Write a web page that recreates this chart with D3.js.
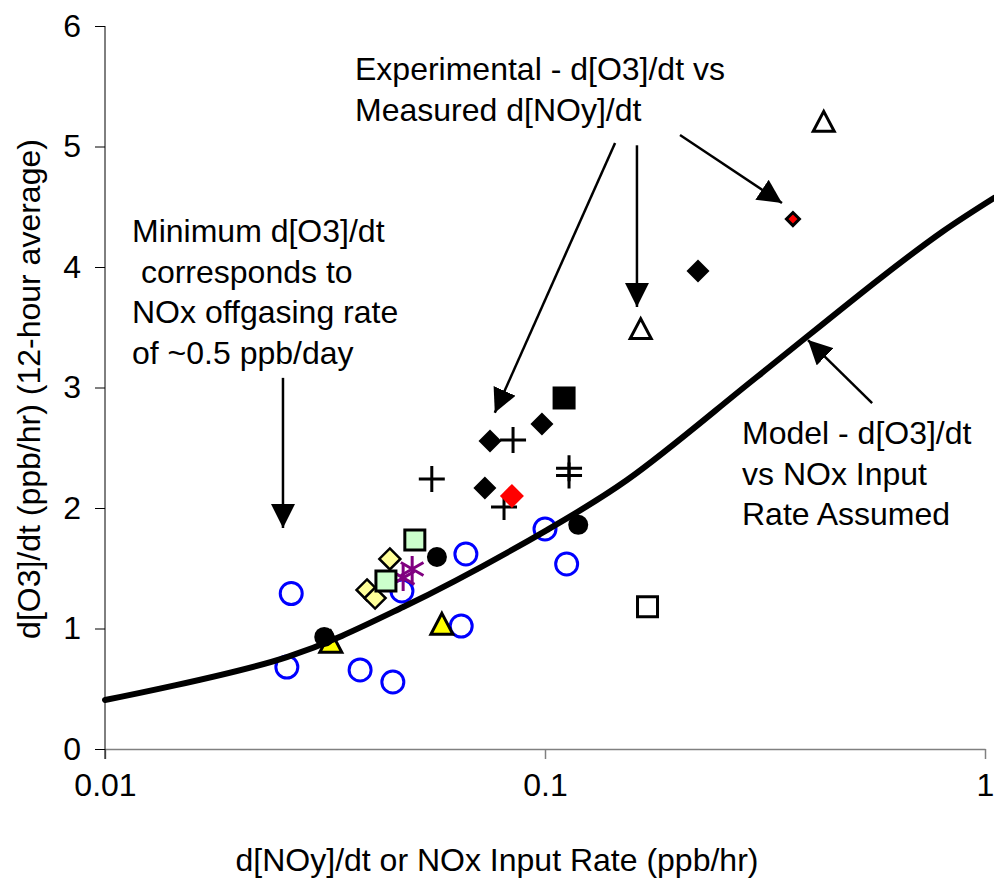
<!DOCTYPE html>
<html>
<head>
<meta charset="utf-8">
<script src="https://cdn.jsdelivr.net/npm/d3@7"></script>
<style>
  body { margin: 0; background: #fff; }
  text { font-family: Arial, "Liberation Sans", sans-serif; fill: #000; }
</style>
</head>
<body>
<svg id="chart" width="994" height="894"></svg>
<script>
// ---- data ----
const xTicks = [0.01, 0.1, 1];
const yTicks = [0, 1, 2, 3, 4, 5, 6];

// model curve (d[O3]/dt vs NOx input rate)
const modelX = [0.01, 0.0259, 0.0476, 0.101, 0.1536, 0.303, 0.5865, 0.803, 1.048];
const modelY = [0.407, 0.763, 1.178, 1.817, 2.232, 3.087, 3.925, 4.297, 4.573];

// experimental points, one array per marker style
const blueCircles = [[0.0265, 1.29], [0.0259, 0.68], [0.038, 0.656], [0.0451, 0.556], [0.0473, 1.311],
                     [0.0661, 1.618], [0.0645, 1.02], [0.1, 1.826], [0.112, 1.535]];
const yellowTriangles = [[0.0326, 0.88], [0.0583, 1.03]];
const yellowDiamonds = [[0.0444, 1.577], [0.0394, 1.32], [0.0411, 1.253]];
const purpleStars = [[0.0476, 1.42], [0.0499, 1.494]];
const greenSquares = [[0.0506, 1.734], [0.0435, 1.394]];
const blackCircles = [[0.0315, 0.93], [0.0568, 1.593], [0.119, 1.86]];
const crosses = [[0.0553, 2.24], [0.0846, 2.564], [0.0807, 2.008], [0.1134, 2.33], [0.1134, 2.27]];
const blackDiamonds = [[0.075, 2.556], [0.073, 2.166], [0.0984, 2.697], [0.2227, 3.967]];
const redDiamonds = [[0.0841, 2.10]];
const blackSquares = [[0.1105, 2.913]];
const openTriangles = [[0.165, 3.48], [0.43, 5.2]];
const openSquares = [[0.171, 1.18]];
const smallRedDiamonds = [[0.366, 4.398]];

// annotation arrows, in data units [x, y]
const arrowFrom = [[0.02538, 3.08], [0.1443, 5.03], [0.1618, 5.01], [0.2027, 5.095], [0.554, 2.871]];
const arrowTo   = [[0.02538, 1.834], [0.0769, 2.79], [0.1618, 3.668], [0.3456, 4.531], [0.396, 3.394]];

// ---- setup ----
const margin = { top: 26, bottom: 145, left: 105, right: 9 };
const svg = d3.select('#chart');
const width = 994 - margin.left - margin.right;
const height = 894 - margin.top - margin.bottom;

const xScale = d3.scaleLog().domain([0.01, 1]).range([margin.left, margin.left + width]);
const yScale = d3.scaleLinear().domain([0, 6]).range([margin.top + height, margin.top]);

svg.append('defs').append('marker')
    .attr('id', 'head')
    .attr('viewBox', '0 0 24 24')
    .attr('refX', 24).attr('refY', 12)
    .attr('markerWidth', 24).attr('markerHeight', 24)
    .attr('markerUnits', 'userSpaceOnUse')
    .attr('orient', 'auto')
  .append('path')
    .attr('d', 'M0,0L24,12L0,24Z')
    .attr('fill', '#000');

// ---- axes ----
const xAxis = d3.axisBottom(xScale).tickValues(xTicks).tickFormat(d3.format('')).tickSize(10).tickSizeOuter(0).tickPadding(14);
const yAxis = d3.axisLeft(yScale).tickValues(yTicks).tickFormat(d3.format('d')).tickSize(10).tickSizeOuter(0).tickPadding(14);

const xAxisGroup = svg.append('g')
    .attr('transform', `translate(0,${yScale(0)})`)
    .call(xAxis);
xAxisGroup.selectAll('path, line').attr('stroke', '#808080').attr('stroke-width', 1.5);
xAxisGroup.selectAll('text').attr('font-size', 32).attr('font-family', 'Arial, "Liberation Sans", sans-serif');

const yAxisGroup = svg.append('g')
    .attr('transform', `translate(${xScale(0.01)},0)`)
    .call(yAxis);
yAxisGroup.select('.domain').attr('d', `M0,${yScale(6)}V${yScale(0) + 10}`);
yAxisGroup.selectAll('path, line').attr('stroke', '#000').attr('stroke-width', 1);
yAxisGroup.selectAll('text').attr('font-size', 32).attr('font-family', 'Arial, "Liberation Sans", sans-serif');

// axis titles
svg.append('text')
    .attr('x', 497).attr('y', 871)
    .attr('text-anchor', 'middle')
    .attr('font-size', 32)
    .text('d[NOy]/dt or NOx Input Rate (ppb/hr)');

svg.append('text')
    .attr('transform', 'translate(40,389) rotate(-90)')
    .attr('text-anchor', 'middle')
    .attr('font-size', 32)
    .text('d[O3]/dt (ppb/hr) (12-hour average)');

// ---- markers ----
const px = d => xScale(d[0]);
const py = d => yScale(d[1]);

function drawPoints(data, shape, fill, stroke, sw) {
    svg.append('g').selectAll('path')
        .data(data)
        .join('path')
            .attr('transform', d => `translate(${px(d)},${py(d)})`)
            .attr('d', shape)
            .attr('fill', fill)
            .attr('stroke', stroke)
            .attr('stroke-width', sw)
            .attr('stroke-linejoin', 'miter');
}

const circle = r => `M${-r},0A${r},${r} 0 1,0 ${r},0A${r},${r} 0 1,0 ${-r},0Z`;
const square = s => `M${-s},${-s}H${s}V${s}H${-s}Z`;
const diamond = s => `M0,${-s}L${s},0L0,${s}L${-s},0Z`;
const triangle = s => `M0,${-s * 1.05}L${s},${s * 0.85}L${-s},${s * 0.85}Z`;
const cross = s => `M${-s},0H${s}M0,${-s}V${s}`;
const star = s => `M0,${-s}V${s}M${-s * 0.87},${-s * 0.5}L${s * 0.87},${s * 0.5}M${-s * 0.87},${s * 0.5}L${s * 0.87},${-s * 0.5}`;

drawPoints(blueCircles, circle(11), 'none', '#0000ff', 3);
drawPoints(yellowTriangles, triangle(11), '#ffff00', '#000', 3);
drawPoints(yellowDiamonds, diamond(10.5), '#ffff99', '#000', 2.5);
drawPoints(purpleStars, star(13), 'none', '#800080', 3);
drawPoints(greenSquares, square(10), '#ccffcc', '#000', 3);
drawPoints(blackCircles, circle(10), '#000', 'none', 0);
drawPoints(crosses, cross(13), 'none', '#000', 3);
drawPoints(blackDiamonds, diamond(11.5), '#000', 'none', 0);
drawPoints(redDiamonds, diamond(12), '#ff0000', 'none', 0);
drawPoints(blackSquares, square(11.5), '#000', 'none', 0);
drawPoints(openTriangles, triangle(10.5), '#fff', '#000', 3);
drawPoints(openSquares, square(10), '#fff', '#000', 3);
drawPoints(smallRedDiamonds, diamond(6.5), '#ff0000', '#000', 3);

// ---- model curve ----
const line = d3.line()
    .x((d, i) => xScale(modelX[i]))
    .y((d, i) => yScale(modelY[i]))
    .curve(d3.curveCatmullRom.alpha(0.5));

svg.append('path')
    .datum(modelX)
    .attr('d', line)
    .attr('fill', 'none')
    .attr('stroke', '#000')
    .attr('stroke-width', 6)
    .attr('stroke-linecap', 'round');

// ---- annotations ----
svg.append('g').selectAll('line')
    .data(arrowFrom)
    .join('line')
        .attr('x1', d => xScale(d[0])).attr('y1', d => yScale(d[1]))
        .attr('x2', (d, i) => xScale(arrowTo[i][0])).attr('y2', (d, i) => yScale(arrowTo[i][1]))
        .attr('stroke', '#000')
        .attr('stroke-width', 2.5)
        .attr('marker-end', 'url(#head)');

function note(x, y, lines) {
    const t = svg.append('text')
        .attr('x', x).attr('y', y)
        .attr('font-size', 32)
        .attr('xml:space', 'preserve');
    lines.forEach((s, i) => {
        t.append('tspan').attr('x', x).attr('y', y + i * 40.5).text(s);
    });
}

note(355, 80, ['Experimental - d[O3]/dt vs', 'Measured d[NOy]/dt']);
note(132, 242, ['Minimum d[O3]/dt', ' corresponds to', 'NOx offgasing rate', 'of ~0.5 ppb/day']);
note(742, 444, ['Model - d[O3]/dt', 'vs NOx Input', 'Rate Assumed']);
</script>
</body>
</html>
